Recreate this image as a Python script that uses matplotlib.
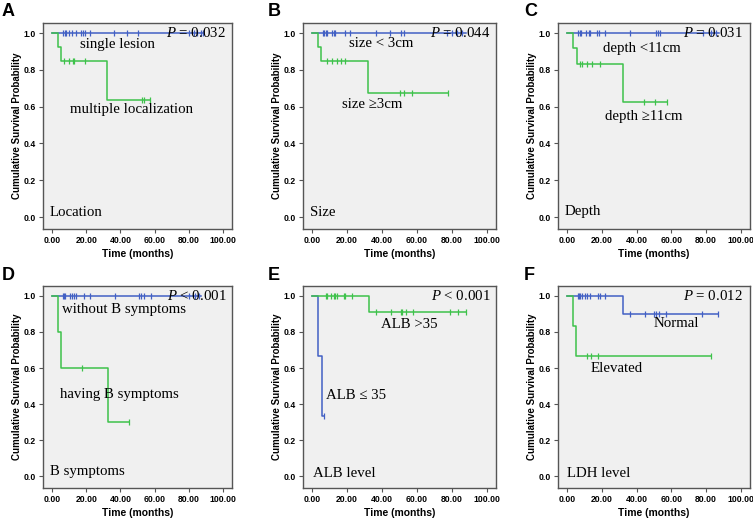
import numpy as np
import matplotlib
matplotlib.use("Agg")
import matplotlib.pyplot as plt

BLUE = "#4260c4"
GREEN = "#3ec24b"
BG = "#f0f0f0"

# ---------------- data ----------------
# Each curve: step times, survival after each step, censor times, end time
# Panel A - Location
A_single_times = []
A_single_surv = []
A_single_cens = [6.2, 7.4, 8.2, 10, 11.9, 14, 17, 18, 19, 22, 36, 44, 50.4, 80, 83, 85, 87, 88.5]
A_single_end = 88.5
A_multi_times = [3.5, 5.3, 32.1]
A_multi_surv = [0.923, 0.846, 0.635]
A_multi_cens = [7.2, 10, 12, 13, 19, 52.9, 54, 57.4]
A_multi_end = 57.5

# Panel B - Size
B_small_times = []
B_small_surv = []
B_small_cens = [6.2, 7, 7.7, 8.3, 11.2, 12.4, 13.2, 18.8, 21.9, 36.4, 44.5, 50.9, 52.8, 77, 80, 83, 86]
B_small_end = 88
B_large_times = [3.5, 5.2, 32.1]
B_large_surv = [0.923, 0.846, 0.677]
B_large_cens = [8.5, 11.4, 14.1, 16.6, 19, 50.5, 52.4, 57, 77.8]
B_large_end = 78

# Panel C - Depth
C_shallow_times = []
C_shallow_surv = []
C_shallow_cens = [6.2, 7.2, 8.1, 10.8, 12.4, 13.3, 17.4, 18.6, 22, 36.2, 51, 52.2, 53.2, 78, 83, 86]
C_shallow_end = 87.5
C_deep_times = [3.5, 5.4, 32.3]
C_deep_surv = [0.917, 0.833, 0.625]
C_deep_cens = [7.5, 8.5, 11.6, 14.1, 19.1, 44.3, 50.5, 57.3]
C_deep_end = 57.5

# Panel D - B symptoms
D_without_times = []
D_without_surv = []
D_without_cens = [6.2, 7, 7.8, 10.7, 11.7, 12.6, 13.8, 18.9, 22.4, 36.6, 50.8, 52.1, 53.7, 57.8, 80, 83.7, 86]
D_without_end = 87
D_having_times = [3.5, 5.3, 32.5]
D_having_surv = [0.8, 0.6, 0.3]
D_having_cens = [17.3, 45]
D_having_end = 45

# Panel E - ALB level
E_high_times = [32.4]
E_high_surv = [0.909]
E_high_cens = [7.6, 8.3, 11, 12.2, 13.2, 14.1, 18, 19, 22.5, 36.4, 45.2, 51, 51.7, 53.7, 57.6, 78.7, 83.3, 88.2]
E_high_end = 88.2
E_low_times = [3.5, 5.4]
E_low_surv = [0.667, 0.333]
E_low_cens = [6.8]
E_low_end = 6.8

# Panel F - LDH level
F_normal_times = [32.2]
F_normal_surv = [0.9]
F_normal_cens = [6, 6.8, 7.6, 8.3, 10.3, 11.4, 13, 17.6, 18.8, 22, 36, 44.6, 50.2, 51, 52.9, 56.8, 77.5, 86.8]
F_normal_end = 87
F_elev_times = [3.1, 5.2]
F_elev_surv = [0.833, 0.667]
F_elev_cens = [11.2, 13.6, 18, 82.6]
F_elev_end = 82.6

x_ticks = [0, 20, 40, 60, 80, 100]
x_ticklabels = ["0.00", "20.00", "40.00", "60.00", "80.00", "100.00"]
y_ticks = [0.0, 0.2, 0.4, 0.6, 0.8, 1.0]
y_ticklabels = ["0.0", "0.2", "0.4", "0.6", "0.8", "1.0"]

# ---------------- drawing ----------------
SERIF = "Liberation Serif"
SANS = "Liberation Sans"

plt.rcParams["mathtext.fontset"] = "custom"
plt.rcParams["mathtext.it"] = "Liberation Serif:italic"
plt.rcParams["mathtext.rm"] = "Liberation Serif"

fig = plt.figure(figsize=(7.53, 5.22), dpi=100)


def km(ax, times, surv, cens, end, color, z):
    t = np.concatenate([[0.0], np.asarray(times, float), [end]])
    s = np.concatenate([[1.0], np.asarray(surv, float), [surv[-1] if len(surv) else 1.0]])
    ax.step(t, s, where="post", color=color, lw=1.1, zorder=z)
    if cens:
        c = np.asarray(cens, float)
        idx = np.searchsorted(t[:-1], c, side="right") - 1
        ax.plot(c, s[idx], linestyle="none", marker="|", ms=5, mew=0.9,
                color=color, zorder=z)


def setup(ax, letter, lx, ly):
    ax.set_facecolor(BG)
    ax.set_xlim(-5.3, 105.3)
    ax.set_ylim(-0.065, 1.055)
    ax.set_xticks(x_ticks)
    ax.set_xticklabels(x_ticklabels, fontfamily=SANS, fontweight="bold", fontsize=6.2)
    ax.set_yticks(y_ticks)
    ax.set_yticklabels(y_ticklabels, fontfamily=SANS, fontweight="bold", fontsize=6.2)
    ax.tick_params(length=3, width=0.8, color="#555555", pad=2)
    for sp in ax.spines.values():
        sp.set_color("#555555")
        sp.set_linewidth(1.0)
    ax.set_xlabel("Time (months)", fontfamily=SANS, fontweight="bold", fontsize=7.5, labelpad=3)
    ax.set_ylabel("Cumulative Survival Probability", fontfamily=SANS, fontweight="bold",
                  fontsize=7, labelpad=1.5)
    fig.text(lx / 753, 1 - ly / 522, letter, fontfamily=SANS, fontweight="bold",
             fontsize=13, va="center", ha="left")


def txt(ax, x, y, s, ha="left"):
    ax.text(x, y, s, fontfamily=SERIF, fontsize=10.7, va="center", ha=ha, zorder=5)


def ptxt(ax, x, y, op, val):
    ax.text(x, y, r"$\it{P}$" + " " + op + " " + val, fontfamily=SERIF, fontsize=10.7,
            va="center", ha="right", zorder=5)


top_b, top_h = 1 - 229 / 522, (229 - 23) / 522
bot_b, bot_h = 1 - 488 / 522, (488 - 286) / 522
lefts = [43 / 753, 303 / 753, 558 / 753]
widths = [189 / 753, 193 / 753, 192 / 753]

axA = fig.add_axes([lefts[0], top_b, widths[0], top_h])
axB = fig.add_axes([lefts[1], top_b, widths[1], top_h])
axC = fig.add_axes([lefts[2], top_b, widths[2], top_h])
axD = fig.add_axes([lefts[0], bot_b, widths[0], bot_h])
axE = fig.add_axes([lefts[1], bot_b, widths[1], bot_h])
axF = fig.add_axes([lefts[2], bot_b, widths[2], bot_h])

# A
setup(axA, "A", 2, 12)
km(axA, A_single_times, A_single_surv, A_single_cens, A_single_end, BLUE, 3)
km(axA, A_multi_times, A_multi_surv, A_multi_cens, A_multi_end, GREEN, 4)
ptxt(axA, 101.7, 1.0, "=", "0.032")
txt(axA, 16.5, 0.94, "single lesion")
txt(axA, 10.7, 0.586, "multiple localization")
txt(axA, -1.4, 0.022, "Location")

# B
setup(axB, "B", 268, 12)
km(axB, B_small_times, B_small_surv, B_small_cens, B_small_end, BLUE, 3)
km(axB, B_large_times, B_large_surv, B_large_cens, B_large_end, GREEN, 4)
ptxt(axB, 102, 1.0, "=", "0.044")
txt(axB, 21.3, 0.944, "size < 3cm")
txt(axB, 16.8, 0.614, "size \u22653cm")
txt(axB, -1.4, 0.027, "Size")

# C
setup(axC, "C", 524, 12)
km(axC, C_shallow_times, C_shallow_surv, C_shallow_cens, C_shallow_end, BLUE, 3)
km(axC, C_deep_times, C_deep_surv, C_deep_cens, C_deep_end, GREEN, 4)
ptxt(axC, 100.8, 1.0, "=", "0.031")
txt(axC, 20.5, 0.917, "depth <11cm")
txt(axC, 21.7, 0.544, "depth \u226511cm")
txt(axC, -1.4, 0.032, "Depth")

# D
setup(axD, "D", 2, 275)
km(axD, D_without_times, D_without_surv, D_without_cens, D_without_end, BLUE, 3)
km(axD, D_having_times, D_having_surv, D_having_cens, D_having_end, GREEN, 4)
ptxt(axD, 102, 1.0, "<", "0.001")
txt(axD, 6, 0.926, "without B symptoms")
txt(axD, 4.5, 0.453, "having B symptoms")
txt(axD, -1, 0.029, "B symptoms")

# E
setup(axE, "E", 268, 276)
km(axE, E_low_times, E_low_surv, E_low_cens, E_low_end, BLUE, 3)
km(axE, E_high_times, E_high_surv, E_high_cens, E_high_end, GREEN, 4)
ptxt(axE, 102, 1.0, "<", "0.001")
txt(axE, 39.3, 0.84, "ALB >35")
txt(axE, 7.6, 0.449, "ALB \u2264 35")
txt(axE, 0.4, 0.018, "ALB level")

# F
setup(axF, "F", 524, 276)
km(axF, F_normal_times, F_normal_surv, F_normal_cens, F_normal_end, BLUE, 3)
km(axF, F_elev_times, F_elev_surv, F_elev_cens, F_elev_end, GREEN, 4)
ptxt(axF, 101, 1.0, "=", "0.012")
txt(axF, 49.6, 0.845, "Normal")
txt(axF, 13.6, 0.6, "Elevated")
txt(axF, 0, 0.018, "LDH level")

fig.savefig("out.png", dpi=100, facecolor="white")
